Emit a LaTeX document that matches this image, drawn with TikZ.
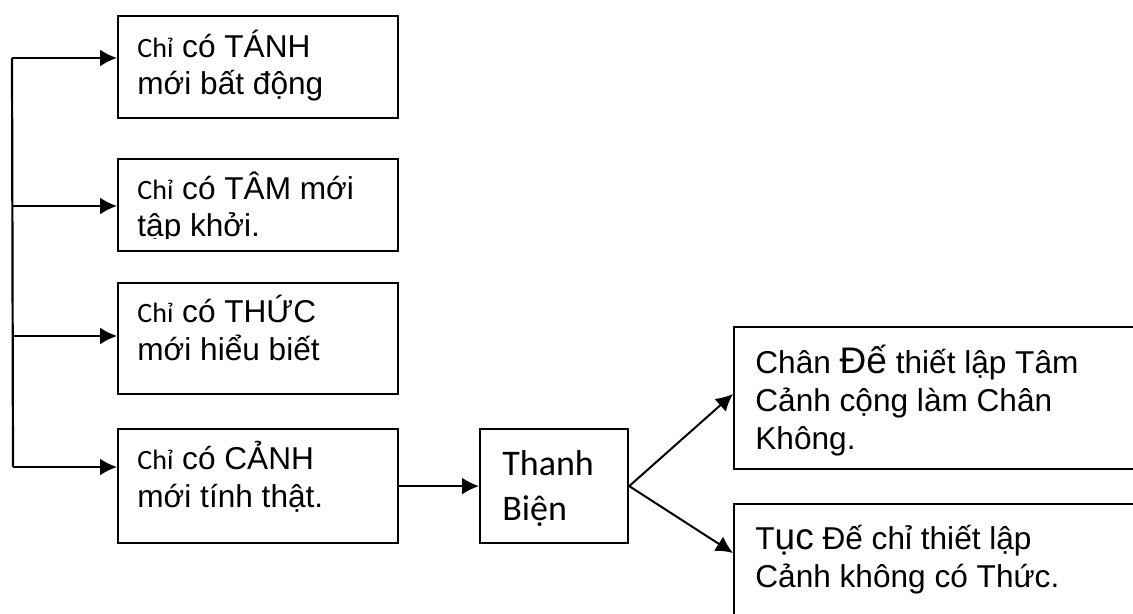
\documentclass[tikz,border=0pt]{standalone}
\usepackage{fontspec}
\setmainfont{Liberation Sans}
\newfontfamily\chifont{Carlito}
\usetikzlibrary{arrows.meta}

\newcommand{\chiword}{{\chifont\fontsize{14}{14}\selectfont Chỉ}}
\newcommand{\bigword}[1]{{\fontsize{18.5}{18.5}\selectfont #1}}

\begin{document}
\begin{tikzpicture}[x=0.5pt,y=-0.5pt,>={Latex[length=8.5pt,width=8.5pt]},
	box/.style={draw,line width=1.1pt,rectangle,anchor=north west,inner sep=0pt},
	txt/.style={anchor=base west,align=left,inner sep=0pt,font=\fontsize{15.8}{18.9}\selectfont}]
		\useasboundingbox (0,0) rectangle (1133,614);
		\clip (0,0) rectangle (1133,614);
		%\node[box,minimum width=w,minimum height=h] (name) at (x,y) {};
		\node[box,minimum width=140pt,minimum height=51pt] (Tanh) at (117,15) {};
		\node[box,minimum width=140pt,minimum height=46pt] (Tam) at (117,158) {};
		\node[box,minimum width=140pt,minimum height=55.5pt] (Thuc) at (117,282) {};
		\node[box,minimum width=140pt,minimum height=57pt] (Canh) at (117,428) {};
		\node[box,minimum width=74pt,minimum height=57pt] (ThanhBien) at (479,428) {};
		\node[box,minimum width=210pt,minimum height=71pt] (ChanDe) at (733,326) {};
		\node[box,minimum width=210pt,minimum height=70pt] (TucDe) at (733,503) {};
		% texts (placed at the baseline of their last line)
		\node[txt] (TanhText) at (137,95) {\chiword{} có TÁNH\\mới bất động};
		\begin{scope}
			\clip (117,158) rectangle (397,239);
			\node[txt] (TamText) at (137,237) {\chiword{} có TÂM mới\\tập khởi.};
		\end{scope}
		\node[txt] (ThucText) at (137,360) {\chiword{} có THỨC\\mới hiểu biết};
		\node[txt] (CanhText) at (137,507) {\chiword{} có CẢNH\\mới tính thật.};
		\node[txt,font=\chifont\fontsize{18}{22.5}\selectfont] (ThanhText) at (502,520) {Thanh\\Biện};
		\node[txt] (ChanText) at (755,449) {Chân \bigword{Đế} thiết lập Tâm\\Cảnh cộng làm Chân\\Không.};
		\node[txt] (TucText) at (755,587) {T\bigword{ục} Đế chỉ thiết lập\\Cảnh không có Thức.};
		% bus on the left
		\coordinate (BusTop) at (12,58);
		\coordinate (BusTam) at (12,206);
		\coordinate (BusThuc) at (13,336);
		\coordinate (BusBot) at (13,467);
		\coordinate (ChanIn) at (733,394);
		\coordinate (TucIn) at (733,553);
		\draw[line width=1.1pt] (BusTop) -- (BusBot);
		\draw[->,line width=1pt] (BusTop) -- (Tanh.west |- BusTop);
		\draw[->,line width=1pt] (BusTam) -- (Tam.west |- BusTam);
		\draw[->,line width=1pt] (BusThuc) -- (Thuc.west |- BusThuc);
		\draw[->,line width=1pt] (BusBot) -- (Canh.west |- BusBot);
		\draw[->,line width=1pt] (Canh.east) -- (ThanhBien.west);
		\draw[->,line width=1pt] (ThanhBien.east) -- (ChanIn);
		\draw[->,line width=1pt] (ThanhBien.east) -- (TucIn);
	\end{tikzpicture}
\end{document}
